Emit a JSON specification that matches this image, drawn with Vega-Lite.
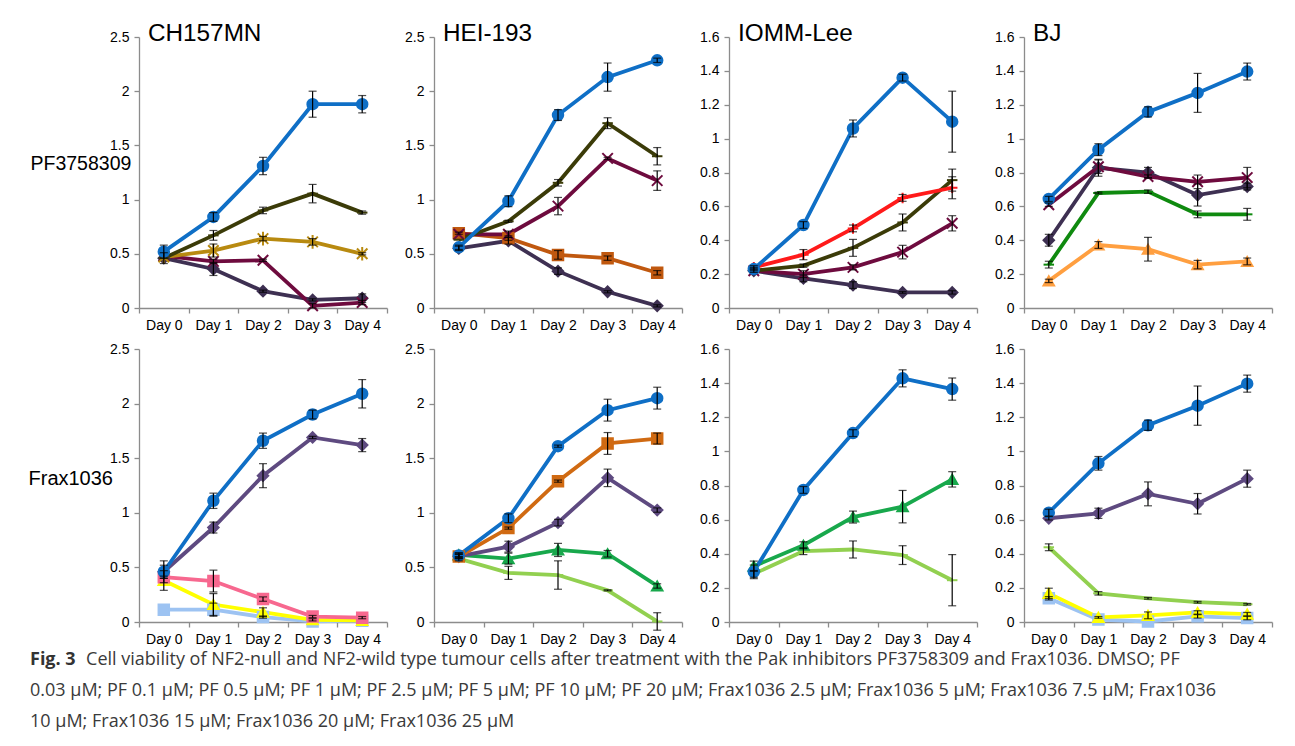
{
  "$schema": "https://vega.github.io/schema/vega-lite/v6.json",
  "background": "white",
  "padding": {"left": 28, "top": 21, "right": 10, "bottom": 10},
  "datasets": {
    "d": [
      {"panel":"CH157MN-PF","series":"PF 5 µM","day":"Day 0","value":0.46,"err":0.05},
      {"panel":"CH157MN-PF","series":"PF 5 µM","day":"Day 1","value":0.36,"err":0.06},
      {"panel":"CH157MN-PF","series":"PF 5 µM","day":"Day 2","value":0.155,"err":0.01},
      {"panel":"CH157MN-PF","series":"PF 5 µM","day":"Day 3","value":0.075,"err":0.01},
      {"panel":"CH157MN-PF","series":"PF 5 µM","day":"Day 4","value":0.09,"err":0.04},
      {"panel":"CH157MN-PF","series":"PF 1 µM","day":"Day 0","value":0.48,"err":0},
      {"panel":"CH157MN-PF","series":"PF 1 µM","day":"Day 1","value":0.43,"err":0.02},
      {"panel":"CH157MN-PF","series":"PF 1 µM","day":"Day 2","value":0.44,"err":0.01},
      {"panel":"CH157MN-PF","series":"PF 1 µM","day":"Day 3","value":0.02,"err":0.02},
      {"panel":"CH157MN-PF","series":"PF 1 µM","day":"Day 4","value":0.05,"err":0.02},
      {"panel":"CH157MN-PF","series":"PF 0.5 µM","day":"Day 0","value":0.47,"err":0},
      {"panel":"CH157MN-PF","series":"PF 0.5 µM","day":"Day 1","value":0.53,"err":0.06},
      {"panel":"CH157MN-PF","series":"PF 0.5 µM","day":"Day 2","value":0.64,"err":0.02},
      {"panel":"CH157MN-PF","series":"PF 0.5 µM","day":"Day 3","value":0.61,"err":0.03},
      {"panel":"CH157MN-PF","series":"PF 0.5 µM","day":"Day 4","value":0.5,"err":0.01},
      {"panel":"CH157MN-PF","series":"PF 0.03 µM","day":"Day 0","value":0.46,"err":0},
      {"panel":"CH157MN-PF","series":"PF 0.03 µM","day":"Day 1","value":0.67,"err":0.045},
      {"panel":"CH157MN-PF","series":"PF 0.03 µM","day":"Day 2","value":0.9,"err":0.03},
      {"panel":"CH157MN-PF","series":"PF 0.03 µM","day":"Day 3","value":1.055,"err":0.085},
      {"panel":"CH157MN-PF","series":"PF 0.03 µM","day":"Day 4","value":0.88,"err":0.015},
      {"panel":"CH157MN-PF","series":"DMSO","day":"Day 0","value":0.52,"err":0.06},
      {"panel":"CH157MN-PF","series":"DMSO","day":"Day 1","value":0.84,"err":0.04},
      {"panel":"CH157MN-PF","series":"DMSO","day":"Day 2","value":1.31,"err":0.08},
      {"panel":"CH157MN-PF","series":"DMSO","day":"Day 3","value":1.88,"err":0.12},
      {"panel":"CH157MN-PF","series":"DMSO","day":"Day 4","value":1.88,"err":0.08},

      {"panel":"HEI-193-PF","series":"PF 5 µM","day":"Day 0","value":0.55,"err":0.02},
      {"panel":"HEI-193-PF","series":"PF 5 µM","day":"Day 1","value":0.62,"err":0.03},
      {"panel":"HEI-193-PF","series":"PF 5 µM","day":"Day 2","value":0.34,"err":0.03},
      {"panel":"HEI-193-PF","series":"PF 5 µM","day":"Day 3","value":0.15,"err":0.01},
      {"panel":"HEI-193-PF","series":"PF 5 µM","day":"Day 4","value":0.02,"err":0.01},
      {"panel":"HEI-193-PF","series":"PF 2.5 µM","day":"Day 0","value":0.69,"err":0.01},
      {"panel":"HEI-193-PF","series":"PF 2.5 µM","day":"Day 1","value":0.645,"err":0.02},
      {"panel":"HEI-193-PF","series":"PF 2.5 µM","day":"Day 2","value":0.49,"err":0.04},
      {"panel":"HEI-193-PF","series":"PF 2.5 µM","day":"Day 3","value":0.46,"err":0.02},
      {"panel":"HEI-193-PF","series":"PF 2.5 µM","day":"Day 4","value":0.325,"err":0.02},
      {"panel":"HEI-193-PF","series":"PF 1 µM","day":"Day 0","value":0.68,"err":0},
      {"panel":"HEI-193-PF","series":"PF 1 µM","day":"Day 1","value":0.68,"err":0.03},
      {"panel":"HEI-193-PF","series":"PF 1 µM","day":"Day 2","value":0.94,"err":0.08},
      {"panel":"HEI-193-PF","series":"PF 1 µM","day":"Day 3","value":1.38,"err":0.01},
      {"panel":"HEI-193-PF","series":"PF 1 µM","day":"Day 4","value":1.175,"err":0.09},
      {"panel":"HEI-193-PF","series":"PF 0.03 µM","day":"Day 0","value":0.63,"err":0},
      {"panel":"HEI-193-PF","series":"PF 0.03 µM","day":"Day 1","value":0.8,"err":0.01},
      {"panel":"HEI-193-PF","series":"PF 0.03 µM","day":"Day 2","value":1.155,"err":0.03},
      {"panel":"HEI-193-PF","series":"PF 0.03 µM","day":"Day 3","value":1.705,"err":0.05},
      {"panel":"HEI-193-PF","series":"PF 0.03 µM","day":"Day 4","value":1.4,"err":0.08},
      {"panel":"HEI-193-PF","series":"DMSO","day":"Day 0","value":0.56,"err":0.02},
      {"panel":"HEI-193-PF","series":"DMSO","day":"Day 1","value":0.985,"err":0.05},
      {"panel":"HEI-193-PF","series":"DMSO","day":"Day 2","value":1.78,"err":0.05},
      {"panel":"HEI-193-PF","series":"DMSO","day":"Day 3","value":2.13,"err":0.13},
      {"panel":"HEI-193-PF","series":"DMSO","day":"Day 4","value":2.285,"err":0.02},

      {"panel":"IOMM-Lee-PF","series":"PF 5 µM","day":"Day 0","value":0.22,"err":0.01},
      {"panel":"IOMM-Lee-PF","series":"PF 5 µM","day":"Day 1","value":0.175,"err":0.02},
      {"panel":"IOMM-Lee-PF","series":"PF 5 µM","day":"Day 2","value":0.135,"err":0.02},
      {"panel":"IOMM-Lee-PF","series":"PF 5 µM","day":"Day 3","value":0.092,"err":0.005},
      {"panel":"IOMM-Lee-PF","series":"PF 5 µM","day":"Day 4","value":0.092,"err":0.01},
      {"panel":"IOMM-Lee-PF","series":"PF 1 µM","day":"Day 0","value":0.22,"err":0},
      {"panel":"IOMM-Lee-PF","series":"PF 1 µM","day":"Day 1","value":0.2,"err":0.02},
      {"panel":"IOMM-Lee-PF","series":"PF 1 µM","day":"Day 2","value":0.24,"err":0.015},
      {"panel":"IOMM-Lee-PF","series":"PF 1 µM","day":"Day 3","value":0.33,"err":0.04},
      {"panel":"IOMM-Lee-PF","series":"PF 1 µM","day":"Day 4","value":0.5,"err":0.045},
      {"panel":"IOMM-Lee-PF","series":"PF 0.03 µM","day":"Day 0","value":0.22,"err":0},
      {"panel":"IOMM-Lee-PF","series":"PF 0.03 µM","day":"Day 1","value":0.25,"err":0.01},
      {"panel":"IOMM-Lee-PF","series":"PF 0.03 µM","day":"Day 2","value":0.355,"err":0.05},
      {"panel":"IOMM-Lee-PF","series":"PF 0.03 µM","day":"Day 3","value":0.505,"err":0.05},
      {"panel":"IOMM-Lee-PF","series":"PF 0.03 µM","day":"Day 4","value":0.755,"err":0.065},
      {"panel":"IOMM-Lee-PF","series":"PF 0.1 µM","day":"Day 0","value":0.24,"err":0.01},
      {"panel":"IOMM-Lee-PF","series":"PF 0.1 µM","day":"Day 1","value":0.315,"err":0.03},
      {"panel":"IOMM-Lee-PF","series":"PF 0.1 µM","day":"Day 2","value":0.47,"err":0.02},
      {"panel":"IOMM-Lee-PF","series":"PF 0.1 µM","day":"Day 3","value":0.65,"err":0.02},
      {"panel":"IOMM-Lee-PF","series":"PF 0.1 µM","day":"Day 4","value":0.71,"err":0.065},
      {"panel":"IOMM-Lee-PF","series":"DMSO","day":"Day 0","value":0.23,"err":0.01},
      {"panel":"IOMM-Lee-PF","series":"DMSO","day":"Day 1","value":0.49,"err":0.02},
      {"panel":"IOMM-Lee-PF","series":"DMSO","day":"Day 2","value":1.06,"err":0.05},
      {"panel":"IOMM-Lee-PF","series":"DMSO","day":"Day 3","value":1.36,"err":0.02},
      {"panel":"IOMM-Lee-PF","series":"DMSO","day":"Day 4","value":1.1,"err":0.18},

      {"panel":"BJ-PF","series":"PF 20 µM","day":"Day 0","value":0.16,"err":0.01},
      {"panel":"BJ-PF","series":"PF 20 µM","day":"Day 1","value":0.372,"err":0.02},
      {"panel":"BJ-PF","series":"PF 20 µM","day":"Day 2","value":0.347,"err":0.07},
      {"panel":"BJ-PF","series":"PF 20 µM","day":"Day 3","value":0.256,"err":0.025},
      {"panel":"BJ-PF","series":"PF 20 µM","day":"Day 4","value":0.275,"err":0.02},
      {"panel":"BJ-PF","series":"PF 10 µM","day":"Day 0","value":0.256,"err":0.02},
      {"panel":"BJ-PF","series":"PF 10 µM","day":"Day 1","value":0.679,"err":0.005},
      {"panel":"BJ-PF","series":"PF 10 µM","day":"Day 2","value":0.687,"err":0.01},
      {"panel":"BJ-PF","series":"PF 10 µM","day":"Day 3","value":0.553,"err":0.02},
      {"panel":"BJ-PF","series":"PF 10 µM","day":"Day 4","value":0.553,"err":0.035},
      {"panel":"BJ-PF","series":"PF 5 µM","day":"Day 0","value":0.4,"err":0.035},
      {"panel":"BJ-PF","series":"PF 5 µM","day":"Day 1","value":0.828,"err":0.05},
      {"panel":"BJ-PF","series":"PF 5 µM","day":"Day 2","value":0.8,"err":0.03},
      {"panel":"BJ-PF","series":"PF 5 µM","day":"Day 3","value":0.667,"err":0.065},
      {"panel":"BJ-PF","series":"PF 5 µM","day":"Day 4","value":0.717,"err":0.02},
      {"panel":"BJ-PF","series":"PF 1 µM","day":"Day 0","value":0.61,"err":0.01},
      {"panel":"BJ-PF","series":"PF 1 µM","day":"Day 1","value":0.834,"err":0.04},
      {"panel":"BJ-PF","series":"PF 1 µM","day":"Day 2","value":0.776,"err":0.01},
      {"panel":"BJ-PF","series":"PF 1 µM","day":"Day 3","value":0.745,"err":0.04},
      {"panel":"BJ-PF","series":"PF 1 µM","day":"Day 4","value":0.77,"err":0.06},
      {"panel":"BJ-PF","series":"DMSO","day":"Day 0","value":0.644,"err":0.015},
      {"panel":"BJ-PF","series":"DMSO","day":"Day 1","value":0.935,"err":0.035},
      {"panel":"BJ-PF","series":"DMSO","day":"Day 2","value":1.158,"err":0.03},
      {"panel":"BJ-PF","series":"DMSO","day":"Day 3","value":1.27,"err":0.115},
      {"panel":"BJ-PF","series":"DMSO","day":"Day 4","value":1.396,"err":0.05},

      {"panel":"CH157MN-Frax","series":"Frax1036 25 µM","day":"Day 0","value":0.113,"err":0},
      {"panel":"CH157MN-Frax","series":"Frax1036 25 µM","day":"Day 1","value":0.113,"err":0.06},
      {"panel":"CH157MN-Frax","series":"Frax1036 25 µM","day":"Day 2","value":0.045,"err":0.01},
      {"panel":"CH157MN-Frax","series":"Frax1036 25 µM","day":"Day 3","value":0.005,"err":0},
      {"panel":"CH157MN-Frax","series":"Frax1036 25 µM","day":"Day 4","value":0.012,"err":0},
      {"panel":"CH157MN-Frax","series":"Frax1036 20 µM","day":"Day 0","value":0.38,"err":0.09},
      {"panel":"CH157MN-Frax","series":"Frax1036 20 µM","day":"Day 1","value":0.16,"err":0.1},
      {"panel":"CH157MN-Frax","series":"Frax1036 20 µM","day":"Day 2","value":0.09,"err":0.04},
      {"panel":"CH157MN-Frax","series":"Frax1036 20 µM","day":"Day 3","value":0.02,"err":0.01},
      {"panel":"CH157MN-Frax","series":"Frax1036 20 µM","day":"Day 4","value":0.015,"err":0},
      {"panel":"CH157MN-Frax","series":"Frax1036 15 µM","day":"Day 0","value":0.41,"err":0.01},
      {"panel":"CH157MN-Frax","series":"Frax1036 15 µM","day":"Day 1","value":0.375,"err":0.1},
      {"panel":"CH157MN-Frax","series":"Frax1036 15 µM","day":"Day 2","value":0.21,"err":0.02},
      {"panel":"CH157MN-Frax","series":"Frax1036 15 µM","day":"Day 3","value":0.05,"err":0.01},
      {"panel":"CH157MN-Frax","series":"Frax1036 15 µM","day":"Day 4","value":0.04,"err":0.01},
      {"panel":"CH157MN-Frax","series":"Frax1036 2.5 µM","day":"Day 0","value":0.46,"err":0.06},
      {"panel":"CH157MN-Frax","series":"Frax1036 2.5 µM","day":"Day 1","value":0.865,"err":0.05},
      {"panel":"CH157MN-Frax","series":"Frax1036 2.5 µM","day":"Day 2","value":1.34,"err":0.11},
      {"panel":"CH157MN-Frax","series":"Frax1036 2.5 µM","day":"Day 3","value":1.69,"err":0.01},
      {"panel":"CH157MN-Frax","series":"Frax1036 2.5 µM","day":"Day 4","value":1.62,"err":0.06},
      {"panel":"CH157MN-Frax","series":"DMSO","day":"Day 0","value":0.46,"err":0.1},
      {"panel":"CH157MN-Frax","series":"DMSO","day":"Day 1","value":1.11,"err":0.07},
      {"panel":"CH157MN-Frax","series":"DMSO","day":"Day 2","value":1.66,"err":0.07},
      {"panel":"CH157MN-Frax","series":"DMSO","day":"Day 3","value":1.9,"err":0.04},
      {"panel":"CH157MN-Frax","series":"DMSO","day":"Day 4","value":2.09,"err":0.13},

      {"panel":"HEI-193-Frax","series":"Frax1036 10 µM","day":"Day 0","value":0.58,"err":0.02},
      {"panel":"HEI-193-Frax","series":"Frax1036 10 µM","day":"Day 1","value":0.45,"err":0.06},
      {"panel":"HEI-193-Frax","series":"Frax1036 10 µM","day":"Day 2","value":0.43,"err":0.13},
      {"panel":"HEI-193-Frax","series":"Frax1036 10 µM","day":"Day 3","value":0.29,"err":0.005},
      {"panel":"HEI-193-Frax","series":"Frax1036 10 µM","day":"Day 4","value":0.005,"err":0.08},
      {"panel":"HEI-193-Frax","series":"Frax1036 7.5 µM","day":"Day 0","value":0.615,"err":0.02},
      {"panel":"HEI-193-Frax","series":"Frax1036 7.5 µM","day":"Day 1","value":0.58,"err":0.05},
      {"panel":"HEI-193-Frax","series":"Frax1036 7.5 µM","day":"Day 2","value":0.66,"err":0.06},
      {"panel":"HEI-193-Frax","series":"Frax1036 7.5 µM","day":"Day 3","value":0.625,"err":0.03},
      {"panel":"HEI-193-Frax","series":"Frax1036 7.5 µM","day":"Day 4","value":0.33,"err":0.02},
      {"panel":"HEI-193-Frax","series":"Frax1036 2.5 µM","day":"Day 0","value":0.6,"err":0.02},
      {"panel":"HEI-193-Frax","series":"Frax1036 2.5 µM","day":"Day 1","value":0.69,"err":0.05},
      {"panel":"HEI-193-Frax","series":"Frax1036 2.5 µM","day":"Day 2","value":0.91,"err":0.03},
      {"panel":"HEI-193-Frax","series":"Frax1036 2.5 µM","day":"Day 3","value":1.32,"err":0.08},
      {"panel":"HEI-193-Frax","series":"Frax1036 2.5 µM","day":"Day 4","value":1.025,"err":0.02},
      {"panel":"HEI-193-Frax","series":"Frax1036 5 µM","day":"Day 0","value":0.6,"err":0.02},
      {"panel":"HEI-193-Frax","series":"Frax1036 5 µM","day":"Day 1","value":0.86,"err":0.01},
      {"panel":"HEI-193-Frax","series":"Frax1036 5 µM","day":"Day 2","value":1.29,"err":0.01},
      {"panel":"HEI-193-Frax","series":"Frax1036 5 µM","day":"Day 3","value":1.635,"err":0.1},
      {"panel":"HEI-193-Frax","series":"Frax1036 5 µM","day":"Day 4","value":1.68,"err":0.05},
      {"panel":"HEI-193-Frax","series":"DMSO","day":"Day 0","value":0.61,"err":0.02},
      {"panel":"HEI-193-Frax","series":"DMSO","day":"Day 1","value":0.95,"err":0.04},
      {"panel":"HEI-193-Frax","series":"DMSO","day":"Day 2","value":1.61,"err":0.01},
      {"panel":"HEI-193-Frax","series":"DMSO","day":"Day 3","value":1.94,"err":0.1},
      {"panel":"HEI-193-Frax","series":"DMSO","day":"Day 4","value":2.05,"err":0.1},

      {"panel":"IOMM-Lee-Frax","series":"Frax1036 10 µM","day":"Day 0","value":0.282,"err":0.02},
      {"panel":"IOMM-Lee-Frax","series":"Frax1036 10 µM","day":"Day 1","value":0.415,"err":0.02},
      {"panel":"IOMM-Lee-Frax","series":"Frax1036 10 µM","day":"Day 2","value":0.425,"err":0.05},
      {"panel":"IOMM-Lee-Frax","series":"Frax1036 10 µM","day":"Day 3","value":0.392,"err":0.055},
      {"panel":"IOMM-Lee-Frax","series":"Frax1036 10 µM","day":"Day 4","value":0.245,"err":0.15},
      {"panel":"IOMM-Lee-Frax","series":"Frax1036 7.5 µM","day":"Day 0","value":0.327,"err":0.03},
      {"panel":"IOMM-Lee-Frax","series":"Frax1036 7.5 µM","day":"Day 1","value":0.45,"err":0.02},
      {"panel":"IOMM-Lee-Frax","series":"Frax1036 7.5 µM","day":"Day 2","value":0.615,"err":0.035},
      {"panel":"IOMM-Lee-Frax","series":"Frax1036 7.5 µM","day":"Day 3","value":0.676,"err":0.095},
      {"panel":"IOMM-Lee-Frax","series":"Frax1036 7.5 µM","day":"Day 4","value":0.836,"err":0.045},
      {"panel":"IOMM-Lee-Frax","series":"DMSO","day":"Day 0","value":0.294,"err":0.04},
      {"panel":"IOMM-Lee-Frax","series":"DMSO","day":"Day 1","value":0.774,"err":0.02},
      {"panel":"IOMM-Lee-Frax","series":"DMSO","day":"Day 2","value":1.107,"err":0.02},
      {"panel":"IOMM-Lee-Frax","series":"DMSO","day":"Day 3","value":1.428,"err":0.05},
      {"panel":"IOMM-Lee-Frax","series":"DMSO","day":"Day 4","value":1.365,"err":0.065},

      {"panel":"BJ-Frax","series":"Frax1036 25 µM","day":"Day 0","value":0.139,"err":0.01},
      {"panel":"BJ-Frax","series":"Frax1036 25 µM","day":"Day 1","value":0.014,"err":0},
      {"panel":"BJ-Frax","series":"Frax1036 25 µM","day":"Day 2","value":0.003,"err":0},
      {"panel":"BJ-Frax","series":"Frax1036 25 µM","day":"Day 3","value":0.033,"err":0.01},
      {"panel":"BJ-Frax","series":"Frax1036 25 µM","day":"Day 4","value":0.023,"err":0.01},
      {"panel":"BJ-Frax","series":"Frax1036 20 µM","day":"Day 0","value":0.168,"err":0.03},
      {"panel":"BJ-Frax","series":"Frax1036 20 µM","day":"Day 1","value":0.027,"err":0.005},
      {"panel":"BJ-Frax","series":"Frax1036 20 µM","day":"Day 2","value":0.039,"err":0.02},
      {"panel":"BJ-Frax","series":"Frax1036 20 µM","day":"Day 3","value":0.056,"err":0.01},
      {"panel":"BJ-Frax","series":"Frax1036 20 µM","day":"Day 4","value":0.046,"err":0.01},
      {"panel":"BJ-Frax","series":"Frax1036 10 µM","day":"Day 0","value":0.438,"err":0.02},
      {"panel":"BJ-Frax","series":"Frax1036 10 µM","day":"Day 1","value":0.168,"err":0.01},
      {"panel":"BJ-Frax","series":"Frax1036 10 µM","day":"Day 2","value":0.139,"err":0.005},
      {"panel":"BJ-Frax","series":"Frax1036 10 µM","day":"Day 3","value":0.116,"err":0.005},
      {"panel":"BJ-Frax","series":"Frax1036 10 µM","day":"Day 4","value":0.104,"err":0.005},
      {"panel":"BJ-Frax","series":"Frax1036 2.5 µM","day":"Day 0","value":0.608,"err":0.01},
      {"panel":"BJ-Frax","series":"Frax1036 2.5 µM","day":"Day 1","value":0.637,"err":0.03},
      {"panel":"BJ-Frax","series":"Frax1036 2.5 µM","day":"Day 2","value":0.751,"err":0.07},
      {"panel":"BJ-Frax","series":"Frax1036 2.5 µM","day":"Day 3","value":0.693,"err":0.06},
      {"panel":"BJ-Frax","series":"Frax1036 2.5 µM","day":"Day 4","value":0.84,"err":0.05},
      {"panel":"BJ-Frax","series":"DMSO","day":"Day 0","value":0.641,"err":0.02},
      {"panel":"BJ-Frax","series":"DMSO","day":"Day 1","value":0.93,"err":0.04},
      {"panel":"BJ-Frax","series":"DMSO","day":"Day 2","value":1.153,"err":0.03},
      {"panel":"BJ-Frax","series":"DMSO","day":"Day 3","value":1.268,"err":0.115},
      {"panel":"BJ-Frax","series":"DMSO","day":"Day 4","value":1.397,"err":0.05}
    ]
  },
  "data": {"name": "d"},
  "columns": 4,
  "bounds": "flush",
  "spacing": {"row": 41, "column": 47},
  "concat": [
    {
      "width": 248, "height": 271,
      "title": {"text": "CH157MN"},
      "transform": [{"filter": "datum.panel === 'CH157MN-PF'"}],
      "encoding": {
        "x": {"field": "day", "type": "ordinal", "scale": {"type": "band", "paddingInner": 0, "paddingOuter": 0}, "axis": {"title": null}},
        "y": {"field": "value", "type": "quantitative", "scale": {"domain": [0, 2.5], "nice": false}, "axis": {"values": [0, 0.5, 1, 1.5, 2, 2.5], "format": "~g", "title": "PF3758309", "titleAngle": 0, "titleAlign": "left", "titleBaseline": "middle", "titleX": -109, "titleY": 126, "titleFontSize": 19.5, "titleFontWeight": "normal", "titleFont": "Liberation Sans", "titleColor": "#000000"}}
      },
      "layer": [
        {"mark": {"type": "line", "strokeWidth": 3.8}, "encoding": {"stroke": {"field": "series", "type": "nominal", "legend": null, "scale": {"domain": ["DMSO","PF 0.03 µM","PF 0.1 µM","PF 0.5 µM","PF 1 µM","PF 2.5 µM","PF 5 µM","PF 10 µM","PF 20 µM","Frax1036 2.5 µM","Frax1036 5 µM","Frax1036 7.5 µM","Frax1036 10 µM","Frax1036 15 µM","Frax1036 20 µM","Frax1036 25 µM"], "range": ["#0F6FC6","#3B3B08","#FF1A1A","#B88A10","#6E0B3E","#C0580F","#3E3052","#0F8A0F","#FF9F40","#5E4A80","#D06A12","#18A84C","#92D050","#F7688F","#FFFF00","#9DC3F2"]}}}},
        {"mark": {"type": "point", "filled": true, "size": 110, "strokeWidth": 2, "opacity": 1}, "encoding": {
          "fill": {"field": "series", "type": "nominal", "legend": null, "scale": {"domain": ["DMSO","PF 0.03 µM","PF 0.1 µM","PF 0.5 µM","PF 1 µM","PF 2.5 µM","PF 5 µM","PF 10 µM","PF 20 µM","Frax1036 2.5 µM","Frax1036 5 µM","Frax1036 7.5 µM","Frax1036 10 µM","Frax1036 15 µM","Frax1036 20 µM","Frax1036 25 µM"], "range": ["#0F6FC6","#3B3B08","#FF1A1A","#B88A10","#6E0B3E","#C0580F","#3E3052","#0F8A0F","#FF9F40","#5E4A80","#D06A12","#18A84C","#92D050","#F7688F","#FFFF00","#9DC3F2"]}},
          "stroke": {"field": "series", "type": "nominal", "legend": null},
          "shape": {"field": "series", "type": "nominal", "legend": null, "scale": {"domain": ["DMSO","PF 0.03 µM","PF 0.1 µM","PF 0.5 µM","PF 1 µM","PF 2.5 µM","PF 5 µM","PF 10 µM","PF 20 µM","Frax1036 2.5 µM","Frax1036 5 µM","Frax1036 7.5 µM","Frax1036 10 µM","Frax1036 15 µM","Frax1036 20 µM","Frax1036 25 µM"], "range": ["circle","M-1,0H1","M-1,0H1M0,-1V1","M-1,-1L1,1M1,-1L-1,1M0,-1.3V1.3","M-1,-1L1,1M1,-1L-1,1","square","diamond","M-1,0H1","triangle-up","diamond","square","triangle-up","M-1,0H1","square","triangle-up","square"]}}
        }},
        {"transform": [{"filter": "datum.err > 0"}], "mark": {"type": "errorbar", "color": "black", "thickness": 1.2, "ticks": {"size": 8}}, "encoding": {"yError": {"field": "err"}}}
      ]
    },
    {
      "width": 248, "height": 271,
      "title": {"text": "HEI-193"},
      "transform": [{"filter": "datum.panel === 'HEI-193-PF'"}],
      "encoding": {
        "x": {"field": "day", "type": "ordinal", "scale": {"type": "band", "paddingInner": 0, "paddingOuter": 0}, "axis": {"title": null}},
        "y": {"field": "value", "type": "quantitative", "scale": {"domain": [0, 2.5], "nice": false}, "axis": {"values": [0, 0.5, 1, 1.5, 2, 2.5], "format": "~g", "title": null}}
      },
      "layer": [
        {"mark": {"type": "line", "strokeWidth": 3.8}, "encoding": {"stroke": {"field": "series", "type": "nominal", "legend": null}}},
        {"mark": {"type": "point", "filled": true, "size": 110, "strokeWidth": 2, "opacity": 1}, "encoding": {"fill": {"field": "series", "type": "nominal", "legend": null}, "stroke": {"field": "series", "type": "nominal", "legend": null}, "shape": {"field": "series", "type": "nominal", "legend": null}}},
        {"transform": [{"filter": "datum.err > 0"}], "mark": {"type": "errorbar", "color": "black", "thickness": 1.2, "ticks": {"size": 8}}, "encoding": {"yError": {"field": "err"}}}
      ]
    },
    {
      "width": 248, "height": 271,
      "title": {"text": "IOMM-Lee"},
      "transform": [{"filter": "datum.panel === 'IOMM-Lee-PF'"}],
      "encoding": {
        "x": {"field": "day", "type": "ordinal", "scale": {"type": "band", "paddingInner": 0, "paddingOuter": 0}, "axis": {"title": null}},
        "y": {"field": "value", "type": "quantitative", "scale": {"domain": [0, 1.6], "nice": false}, "axis": {"values": [0, 0.2, 0.4, 0.6, 0.8, 1, 1.2, 1.4, 1.6], "format": "~g", "title": null}}
      },
      "layer": [
        {"mark": {"type": "line", "strokeWidth": 3.8}, "encoding": {"stroke": {"field": "series", "type": "nominal", "legend": null}}},
        {"mark": {"type": "point", "filled": true, "size": 110, "strokeWidth": 2, "opacity": 1}, "encoding": {"fill": {"field": "series", "type": "nominal", "legend": null}, "stroke": {"field": "series", "type": "nominal", "legend": null}, "shape": {"field": "series", "type": "nominal", "legend": null}}},
        {"transform": [{"filter": "datum.err > 0"}], "mark": {"type": "errorbar", "color": "black", "thickness": 1.2, "ticks": {"size": 8}}, "encoding": {"yError": {"field": "err"}}}
      ]
    },
    {
      "width": 248, "height": 271,
      "title": {"text": "BJ"},
      "transform": [{"filter": "datum.panel === 'BJ-PF'"}],
      "encoding": {
        "x": {"field": "day", "type": "ordinal", "scale": {"type": "band", "paddingInner": 0, "paddingOuter": 0}, "axis": {"title": null}},
        "y": {"field": "value", "type": "quantitative", "scale": {"domain": [0, 1.6], "nice": false}, "axis": {"values": [0, 0.2, 0.4, 0.6, 0.8, 1, 1.2, 1.4, 1.6], "format": "~g", "title": null}}
      },
      "layer": [
        {"mark": {"type": "line", "strokeWidth": 3.8}, "encoding": {"stroke": {"field": "series", "type": "nominal", "legend": null}}},
        {"mark": {"type": "point", "filled": true, "size": 110, "strokeWidth": 2, "opacity": 1}, "encoding": {"fill": {"field": "series", "type": "nominal", "legend": null}, "stroke": {"field": "series", "type": "nominal", "legend": null}, "shape": {"field": "series", "type": "nominal", "legend": null}}},
        {"transform": [{"filter": "datum.err > 0"}], "mark": {"type": "errorbar", "color": "black", "thickness": 1.2, "ticks": {"size": 8}}, "encoding": {"yError": {"field": "err"}}}
      ]
    },
    {
      "width": 248, "height": 273,
      "transform": [{"filter": "datum.panel === 'CH157MN-Frax'"}],
      "encoding": {
        "x": {"field": "day", "type": "ordinal", "scale": {"type": "band", "paddingInner": 0, "paddingOuter": 0}, "axis": {"title": null}},
        "y": {"field": "value", "type": "quantitative", "scale": {"domain": [0, 2.5], "nice": false}, "axis": {"values": [0, 0.5, 1, 1.5, 2, 2.5], "format": "~g", "title": "Frax1036", "titleAngle": 0, "titleAlign": "left", "titleBaseline": "middle", "titleX": -111, "titleY": 129, "titleFontSize": 20, "titleFontWeight": "normal", "titleFont": "Liberation Sans", "titleColor": "#000000"}}
      },
      "layer": [
        {"mark": {"type": "line", "strokeWidth": 3.8}, "encoding": {"stroke": {"field": "series", "type": "nominal", "legend": null}}},
        {"mark": {"type": "point", "filled": true, "size": 110, "strokeWidth": 2, "opacity": 1}, "encoding": {"fill": {"field": "series", "type": "nominal", "legend": null}, "stroke": {"field": "series", "type": "nominal", "legend": null}, "shape": {"field": "series", "type": "nominal", "legend": null}}},
        {"transform": [{"filter": "datum.err > 0"}], "mark": {"type": "errorbar", "color": "black", "thickness": 1.2, "ticks": {"size": 8}}, "encoding": {"yError": {"field": "err"}}}
      ]
    },
    {
      "width": 248, "height": 273,
      "transform": [{"filter": "datum.panel === 'HEI-193-Frax'"}],
      "encoding": {
        "x": {"field": "day", "type": "ordinal", "scale": {"type": "band", "paddingInner": 0, "paddingOuter": 0}, "axis": {"title": null}},
        "y": {"field": "value", "type": "quantitative", "scale": {"domain": [0, 2.5], "nice": false}, "axis": {"values": [0, 0.5, 1, 1.5, 2, 2.5], "format": "~g", "title": null}}
      },
      "layer": [
        {"mark": {"type": "line", "strokeWidth": 3.8}, "encoding": {"stroke": {"field": "series", "type": "nominal", "legend": null}}},
        {"mark": {"type": "point", "filled": true, "size": 110, "strokeWidth": 2, "opacity": 1}, "encoding": {"fill": {"field": "series", "type": "nominal", "legend": null}, "stroke": {"field": "series", "type": "nominal", "legend": null}, "shape": {"field": "series", "type": "nominal", "legend": null}}},
        {"transform": [{"filter": "datum.err > 0"}], "mark": {"type": "errorbar", "color": "black", "thickness": 1.2, "ticks": {"size": 8}}, "encoding": {"yError": {"field": "err"}}}
      ]
    },
    {
      "width": 248, "height": 273,
      "transform": [{"filter": "datum.panel === 'IOMM-Lee-Frax'"}],
      "encoding": {
        "x": {"field": "day", "type": "ordinal", "scale": {"type": "band", "paddingInner": 0, "paddingOuter": 0}, "axis": {"title": null}},
        "y": {"field": "value", "type": "quantitative", "scale": {"domain": [0, 1.6], "nice": false}, "axis": {"values": [0, 0.2, 0.4, 0.6, 0.8, 1, 1.2, 1.4, 1.6], "format": "~g", "title": null}}
      },
      "layer": [
        {"mark": {"type": "line", "strokeWidth": 3.8}, "encoding": {"stroke": {"field": "series", "type": "nominal", "legend": null}}},
        {"mark": {"type": "point", "filled": true, "size": 110, "strokeWidth": 2, "opacity": 1}, "encoding": {"fill": {"field": "series", "type": "nominal", "legend": null}, "stroke": {"field": "series", "type": "nominal", "legend": null}, "shape": {"field": "series", "type": "nominal", "legend": null}}},
        {"transform": [{"filter": "datum.err > 0"}], "mark": {"type": "errorbar", "color": "black", "thickness": 1.2, "ticks": {"size": 8}}, "encoding": {"yError": {"field": "err"}}}
      ]
    },
    {
      "width": 248, "height": 273,
      "transform": [{"filter": "datum.panel === 'BJ-Frax'"}],
      "encoding": {
        "x": {"field": "day", "type": "ordinal", "scale": {"type": "band", "paddingInner": 0, "paddingOuter": 0}, "axis": {"title": null}},
        "y": {"field": "value", "type": "quantitative", "scale": {"domain": [0, 1.6], "nice": false}, "axis": {"values": [0, 0.2, 0.4, 0.6, 0.8, 1, 1.2, 1.4, 1.6], "format": "~g", "title": null}}
      },
      "layer": [
        {"mark": {"type": "line", "strokeWidth": 3.8}, "encoding": {"stroke": {"field": "series", "type": "nominal", "legend": null}}},
        {"mark": {"type": "point", "filled": true, "size": 110, "strokeWidth": 2, "opacity": 1}, "encoding": {"fill": {"field": "series", "type": "nominal", "legend": null}, "stroke": {"field": "series", "type": "nominal", "legend": null}, "shape": {"field": "series", "type": "nominal", "legend": null}}},
        {"transform": [{"filter": "datum.err > 0"}], "mark": {"type": "errorbar", "color": "black", "thickness": 1.2, "ticks": {"size": 8}}, "encoding": {"yError": {"field": "err"}}}
      ]
    }
  ],
  "title": {
    "text": "Fig. 3",
    "subtitle": [
      "\u200b\u00a0\u00a0\u00a0\u00a0\u00a0\u00a0\u00a0\u00a0\u00a0\u00a0\u00a0\u00a0Cell viability of NF2-null and NF2-wild type tumour cells after treatment with the Pak inhibitors PF3758309 and Frax1036. DMSO; PF",
      "0.03 µM; PF 0.1 µM; PF 0.5 µM; PF 1 µM; PF 2.5 µM; PF 5 µM; PF 10 µM; PF 20 µM; Frax1036 2.5 µM; Frax1036 5 µM; Frax1036 7.5 µM; Frax1036",
      "10 µM; Frax1036 15 µM; Frax1036 20 µM; Frax1036 25 µM"
    ],
    "orient": "bottom",
    "anchor": "start",
    "frame": "bounds",
    "baseline": "top",
    "offset": 5,
    "dx": 2,
    "dy": 0,
    "font": "Open Sans",
    "fontSize": 18,
    "fontWeight": "bold",
    "color": "#333333",
    "subtitleFont": "Open Sans",
    "subtitleFontSize": 18,
    "subtitleFontWeight": "normal",
    "subtitleColor": "#3a3a3a",
    "subtitleLineHeight": 31,
    "subtitlePadding": -18
  },
  "config": {
    "view": {"stroke": null},
    "font": "Liberation Sans",
    "axis": {"grid": false, "domainColor": "#8c8c8c", "tickColor": "#8c8c8c", "domainWidth": 1.3, "tickWidth": 1.3, "tickSize": 5, "labelColor": "#000000", "labelFont": "Liberation Sans", "labelFontSize": 14},
    "axisX": {"tickBand": "extent", "labelAngle": 0, "labelPadding": 5},
    "axisY": {"labelPadding": 5},
    "title": {"font": "Liberation Sans", "fontSize": 24.3, "fontWeight": "normal", "color": "#000000", "anchor": "start", "frame": "group", "baseline": "alphabetic", "offset": -16, "dx": 9}
  }
}
